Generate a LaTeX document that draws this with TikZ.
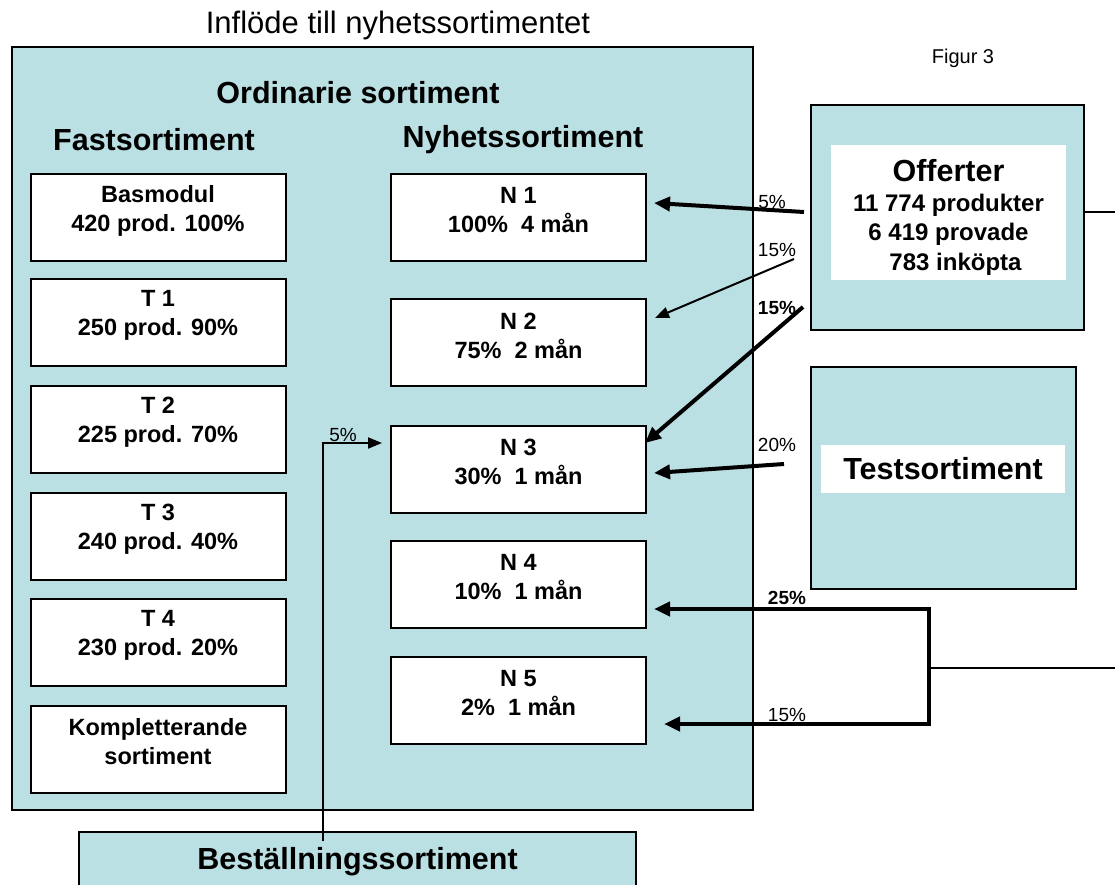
\documentclass[tikz,border=0pt]{standalone}
\usepackage{fontspec}
\setmainfont{Liberation Sans}
\usetikzlibrary{arrows.meta,calc}
\definecolor{boxblue}{RGB}{187,224,227}

\begin{document}
\begin{tikzpicture}[x=1pt, y=-1pt,
    frame/.style={draw, line width=2pt, fill=boxblue},
    card/.style={draw, line width=2pt, fill=white, minimum width=255, minimum height=87,
      label={[align=center, yshift=7pt, font=\fontsize{23.5}{29}\selectfont\bfseries]center:#1}},
    head/.style={font=\fontsize{30.5}{32}\selectfont\bfseries},
    pct/.style={font=\fontsize{19}{21}\selectfont},
    pctb/.style={font=\fontsize{19}{21}\selectfont\bfseries},
    flow/.style={line width=4pt, -{Triangle[length=16pt,width=14pt]}},
    slim/.style={line width=2pt, -{Triangle[length=14pt,width=11pt]}}]
  \useasboundingbox (0,0) rectangle (1115,885);
  \clip (0,0) rectangle (1115,885);

  \node[font=\fontsize{31}{33}\selectfont] (ttl) at (398,25) {Inflöde till nyhetssortimentet};
  \node[font=\fontsize{20}{22}\selectfont] (fig) at (963,58) {Figur 3};

  % ordinarie sortiment
  \node[frame, minimum width=741, minimum height=763] (main) at (382.5,428.5) {};
  \node[head] (ord) at (358,93) {Ordinarie sortiment};
  \node[head] (fast) at (154,140) {Fastsortiment};
  \node[head] (nyh) at (523,140) {Nyhetssortiment};

  \node[card={Basmodul\\420 prod. 100\%}] (bas) at (158,217.5) {};
  \node[card={T 1\\250 prod. 90\%}] (t1) at (158,322.5) {};
  \node[card={T 2\\225 prod. 70\%}] (t2) at (158,429) {};
  \node[card={T 3\\240 prod. 40\%}] (t3) at (158,536) {};
  \node[card={T 4\\230 prod. 20\%}] (t4) at (158,642.5) {};
  \node[card={Kompletterande\\sortiment}] (komp) at (158,749) {};

  \node[card={N 1\\100\%\ \ 4 mån}] (n1) at (518.5,217.5) {};
  \node[card={N 2\\75\%\ \ 2 mån}] (n2) at (518.5,342.5) {};
  \node[card={N 3\\30\%\ \ 1 mån}] (n3) at (518.5,469) {};
  \node[card={N 4\\10\%\ \ 1 mån}] (n4) at (518.5,584) {};
  \node[card={N 5\\2\%\ \ 1 mån}] (n5) at (518.5,700.5) {};

  % right side
  \node[frame, minimum width=273, minimum height=225] (off) at (947.5,217.5) {};
  \node[fill=white, minimum width=235, minimum height=135,
        label={[align=center, yshift=-5pt, font=\fontsize{24}{29.5}\selectfont\bfseries]center:%
        {\fontsize{30.5}{31}\selectfont Offerter}\\11 774 produkter\\6 419 provade\\\hspace*{14pt}783 inköpta}]
        (offtxt) at (948.5,212.5) {};
  \node[frame, minimum width=265, minimum height=222] (test) at (943.5,478) {};
  \node[fill=white, head, minimum width=244, minimum height=48] (testtxt) at (943,469) {Testsortiment};

  \node[frame, head, minimum width=557, minimum height=60] (best) at (357.5,862) {Beställningssortiment};

  % flows
  \coordinate (s1) at (804,212);
  \coordinate (s2) at (794,259);
  \coordinate (s3) at (803,307);
  \coordinate (s4) at (784,464);
  \coordinate (bt) at (929,609);
  \coordinate (bb) at (929,724);
  \coordinate (fork) at (929,668);
  \coordinate (out1) at (1115,212);
  \coordinate (out2) at (1115,668);

  \draw[flow] (s1) -- ($(n1.east)+(7,-14.5)$);
  \draw[slim] (s2) -- ($(n2.east)+(8,-24.5)$);
  \draw[flow] (s3) -- ($(n3.east)+(-2,-26)$);
  \draw[flow] (s4) -- ($(n3.east)+(7,4)$);
  \draw[line width=4pt, {Triangle[length=16pt,width=14pt]}-{Triangle[length=16pt,width=14pt]}]
    ($(n4.east)+(7,25)$) -- (bt) -- (bb) -- ($(n5.east)+(17,23.5)$);
  \draw[line width=2pt] (fork) -- (out2);
  \draw[line width=2pt] ($(off.east)+(0,-5.5)$) -- (out1);
  \draw[slim] ($(best.north)+(-34.5,10)$) |- ($(n3.west)+(-8,-26)$);

  \node[pct] (p1) at (772,202) {5\%};
  \node[pct] (p2) at (777,250) {15\%};
  \node[pctb] (p3) at (777,308) {15\%};
  \node[pct] (p4) at (777,445) {20\%};
  \node[pctb] (p5) at (787,598) {25\%};
  \node[pct] (p6) at (787,715) {15\%};
  \node[pct] (p7) at (343,435) {5\%};
\end{tikzpicture}
\end{document}
